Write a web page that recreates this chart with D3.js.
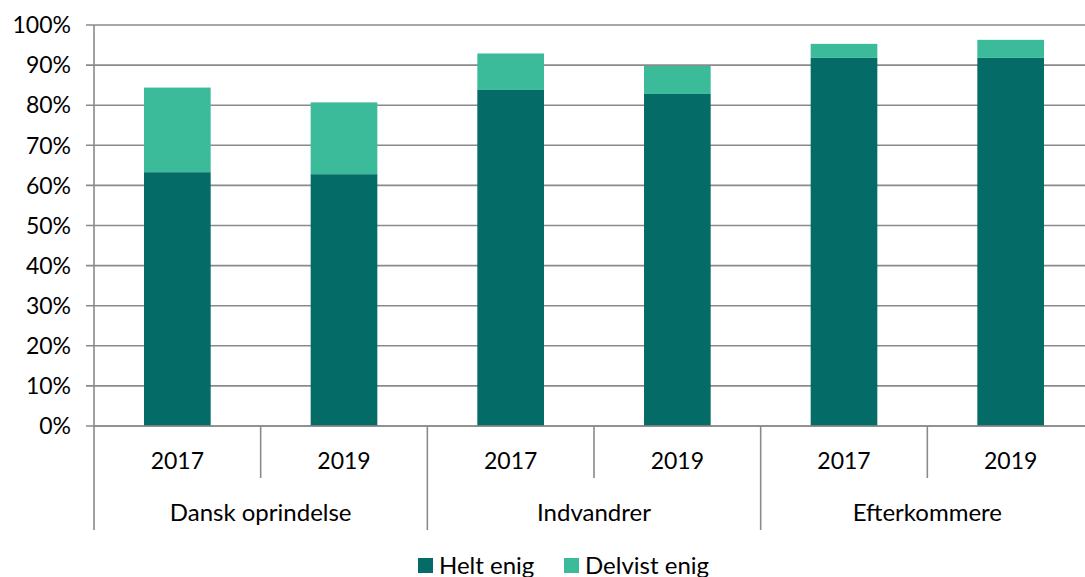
<!DOCTYPE html>
<html lang="da">
<head>
<meta charset="UTF-8">
<title>Enighed</title>
<script src="https://cdn.jsdelivr.net/npm/d3@7"></script>
<style>
  body { margin: 0; background: #fff; }
  text { font-family: Lato, "Open Sans", sans-serif; fill: #000; }
</style>
</head>
<body>
<svg id="chart" width="1085" height="577"></svg>
<script>
// data (percent)
var groups = ["Dansk oprindelse", "Indvandrer", "Efterkommere"];
var years = ["2017", "2019"];
var heltEnig = [63.3, 62.8, 83.8, 82.8, 91.8, 91.8];
var delvistEnig = [21.1, 17.9, 9.1, 7.0, 3.5, 4.5];
var seriesNames = ["Helt enig", "Delvist enig"];
var colors = ["#056b67", "#3cbb9b"];
var yTicks = [0, 10, 20, 30, 40, 50, 60, 70, 80, 90, 100];

var rows = [];
groups.forEach(function(g, gi) {
    years.forEach(function(yr, yi) {
        var i = gi * years.length + yi;
        rows.push({ group: g, year: yr, "Helt enig": heltEnig[i], "Delvist enig": delvistEnig[i] });
    });
});

var svg = d3.select("#chart");
var plotLeft = 94, plotRight = 1094, plotTop = 25, plotBottom = 426;
var gridColor = "#8a8a8a";

var y = d3.scaleLinear().domain([0, 100]).range([plotBottom, plotTop]);
var xg = d3.scaleBand().domain(groups).range([plotLeft, plotRight]);
var xy = d3.scaleBand().domain(years).range([0, xg.bandwidth()]).paddingInner(0.6).paddingOuter(0.3);
var xOuter = d3.scaleBand().domain(years).range([0, xg.bandwidth()]);

// gridlines
svg.append("g")
    .selectAll("line")
    .data(yTicks)
    .enter()
    .append("line")
    .attr("x1", plotLeft - 8)
    .attr("x2", plotRight)
    .attr("y1", function(d) { return y(d); })
    .attr("y2", function(d) { return y(d); })
    .attr("stroke", gridColor)
    .attr("stroke-width", 1.6);

// y labels
svg.append("g")
    .selectAll("text")
    .data(yTicks)
    .enter()
    .append("text")
    .attr("x", 71)
    .attr("y", function(d) { return y(d); })
    .attr("dy", "0.36em")
    .attr("text-anchor", "end")
    .style("font-size", "23px")
    .text(function(d) { return d + "%"; });

// stacked bars
var stack = d3.stack().keys(seriesNames)(rows);
svg.append("g")
    .selectAll("g")
    .data(stack)
    .enter()
    .append("g")
    .attr("fill", function(d, i) { return colors[i]; })
    .selectAll("rect")
    .data(function(d) { return d; })
    .enter()
    .append("rect")
    .attr("x", function(d) { return xg(d.data.group) + xy(d.data.year); })
    .attr("width", xy.bandwidth())
    .attr("y", function(d) { return y(d[1]); })
    .attr("height", function(d) { return y(d[0]) - y(d[1]); });

// axis lines
svg.append("line")
    .attr("x1", plotLeft).attr("x2", plotLeft)
    .attr("y1", plotTop).attr("y2", 530)
    .attr("stroke", gridColor).attr("stroke-width", 1.6);
svg.append("line")
    .attr("x1", plotLeft).attr("x2", plotRight)
    .attr("y1", plotBottom).attr("y2", plotBottom)
    .attr("stroke", gridColor).attr("stroke-width", 1.6);

// group boundaries (long) and year boundaries (short)
svg.append("g")
    .selectAll("line")
    .data(groups)
    .enter()
    .append("line")
    .attr("x1", function(d) { return xg(d) + xg.bandwidth(); })
    .attr("x2", function(d) { return xg(d) + xg.bandwidth(); })
    .attr("y1", plotBottom).attr("y2", 530)
    .attr("stroke", gridColor).attr("stroke-width", 1.6);

svg.append("g")
    .selectAll("line")
    .data(groups)
    .enter()
    .append("line")
    .attr("x1", function(d) { return xg(d) + xOuter("2019"); })
    .attr("x2", function(d) { return xg(d) + xOuter("2019"); })
    .attr("y1", plotBottom).attr("y2", 478)
    .attr("stroke", gridColor).attr("stroke-width", 1.6);

// year labels
svg.append("g")
    .selectAll("text")
    .data(rows)
    .enter()
    .append("text")
    .attr("x", function(d) { return xg(d.group) + xOuter(d.year) + xOuter.bandwidth() / 2; })
    .attr("y", 469)
    .attr("text-anchor", "middle")
    .style("font-size", "23px")
    .text(function(d) { return d.year; });

// group labels
svg.append("g")
    .selectAll("text")
    .data(groups)
    .enter()
    .append("text")
    .attr("x", function(d) { return xg(d) + xg.bandwidth() / 2; })
    .attr("y", 521)
    .attr("text-anchor", "middle")
    .style("font-size", "24px")
    .text(function(d) { return d; });

// legend
var legend = svg.append("g").attr("transform", "translate(418,558)");
var lx = [0, 146];
seriesNames.forEach(function(s, i) {
    legend.append("rect")
        .attr("x", lx[i]).attr("y", 0)
        .attr("width", 15).attr("height", 15)
        .attr("fill", colors[i]);
    legend.append("text")
        .attr("x", lx[i] + 21).attr("y", 16)
        .style("font-size", "24px")
        .text(s);
});
</script>
</body>
</html>
